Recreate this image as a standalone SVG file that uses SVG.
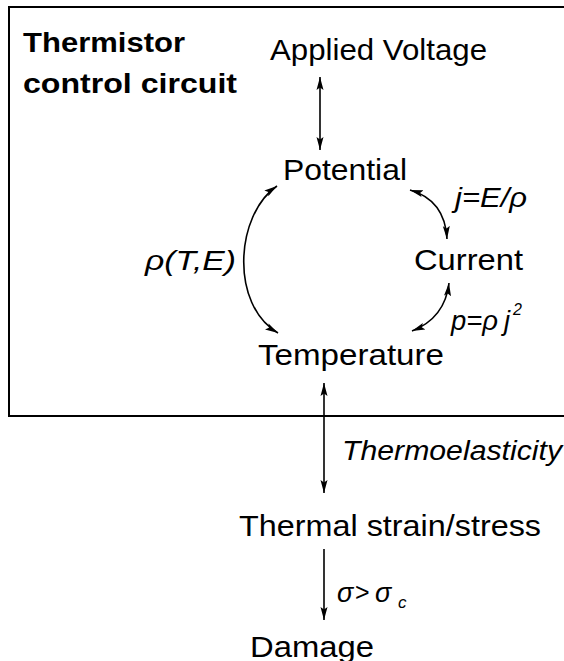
<svg xmlns="http://www.w3.org/2000/svg" width="564" height="661" viewBox="0 0 564 661">
<defs>
<style>
.t{font-family:"Liberation Sans",Arial,Helvetica,sans-serif;font-size:29px;fill:#000}
.b{font-family:"Liberation Sans",Arial,Helvetica,sans-serif;font-size:28px;font-weight:bold;fill:#000}
.i{font-family:"Liberation Sans",Arial,Helvetica,sans-serif;font-size:27px;font-style:italic;fill:#000}
.c{fill:none;stroke:#000;stroke-width:1.6}
</style>
<marker id="ah" markerUnits="userSpaceOnUse" markerWidth="14" markerHeight="9" refX="13" refY="4.5" orient="auto-start-reverse">
<path d="M0,1 L13,4.5 L0,8 L2.5,4.5 z" fill="#000"/>
</marker>
</defs>
<rect width="564" height="661" fill="#fff"/>
<path id="frame" d="M566,7 H9 V416 H566" fill="none" stroke="#000" stroke-width="2"/>
<g id="title"><text class="b" x="23" y="52" textLength="162" lengthAdjust="spacingAndGlyphs">Thermistor</text><text class="b" x="23" y="93" textLength="214" lengthAdjust="spacingAndGlyphs">control circuit</text></g>
<g id="applied-voltage"><text class="t" x="270" y="60" textLength="217" lengthAdjust="spacingAndGlyphs">Applied Voltage</text></g>
<g id="potential"><text class="t" x="283" y="180" textLength="124" lengthAdjust="spacingAndGlyphs">Potential</text></g>
<g id="current"><text class="t" x="414" y="270" textLength="109" lengthAdjust="spacingAndGlyphs">Current</text></g>
<g id="temperature"><text class="t" x="258" y="365" textLength="186" lengthAdjust="spacingAndGlyphs">Temperature</text></g>
<g id="thermal-strain"><text class="t" x="239" y="536" textLength="302" lengthAdjust="spacingAndGlyphs">Thermal strain/stress</text></g>
<g id="damage"><text class="t" x="250" y="657" textLength="124" lengthAdjust="spacingAndGlyphs">Damage</text></g>
<g id="connectors">
<line class="c" x1="320" y1="77" x2="320" y2="150" marker-start="url(#ah)" marker-end="url(#ah)"/>
<path class="c" d="M277,186 C235,215 230,305 278,333" marker-start="url(#ah)" marker-end="url(#ah)"/>
<path class="c" d="M410,190 Q445,200 447,239" marker-start="url(#ah)" marker-end="url(#ah)"/>
<path class="c" d="M449,283 Q445,318 412,331" marker-start="url(#ah)" marker-end="url(#ah)"/>
<line class="c" x1="324" y1="383" x2="324" y2="493" marker-start="url(#ah)" marker-end="url(#ah)"/>
<line class="c" x1="324" y1="549" x2="324" y2="620" marker-end="url(#ah)"/>
</g>
<g id="labels">
<text class="i" x="145" y="270" textLength="91" lengthAdjust="spacingAndGlyphs">ρ(T,E)</text>
<text class="i" x="455" y="207" textLength="72" lengthAdjust="spacingAndGlyphs">j=E/ρ</text>
<text class="i" x="451" y="330" textLength="47" lengthAdjust="spacingAndGlyphs">p=ρ</text>
<text class="i" x="504" y="330">j</text>
<text class="i" x="513" y="315" style="font-size:16px">2</text>
<text class="i" x="342" y="460" textLength="220" lengthAdjust="spacingAndGlyphs">Thermoelasticity</text>
<text class="i" x="337" y="602">σ</text>
<text class="t" x="355" y="601" style="font-size:25px">&gt;</text>
<text class="i" x="375" y="602">σ</text>
<text class="i" x="398" y="608" style="font-size:17px">c</text>
</g>
</svg>
